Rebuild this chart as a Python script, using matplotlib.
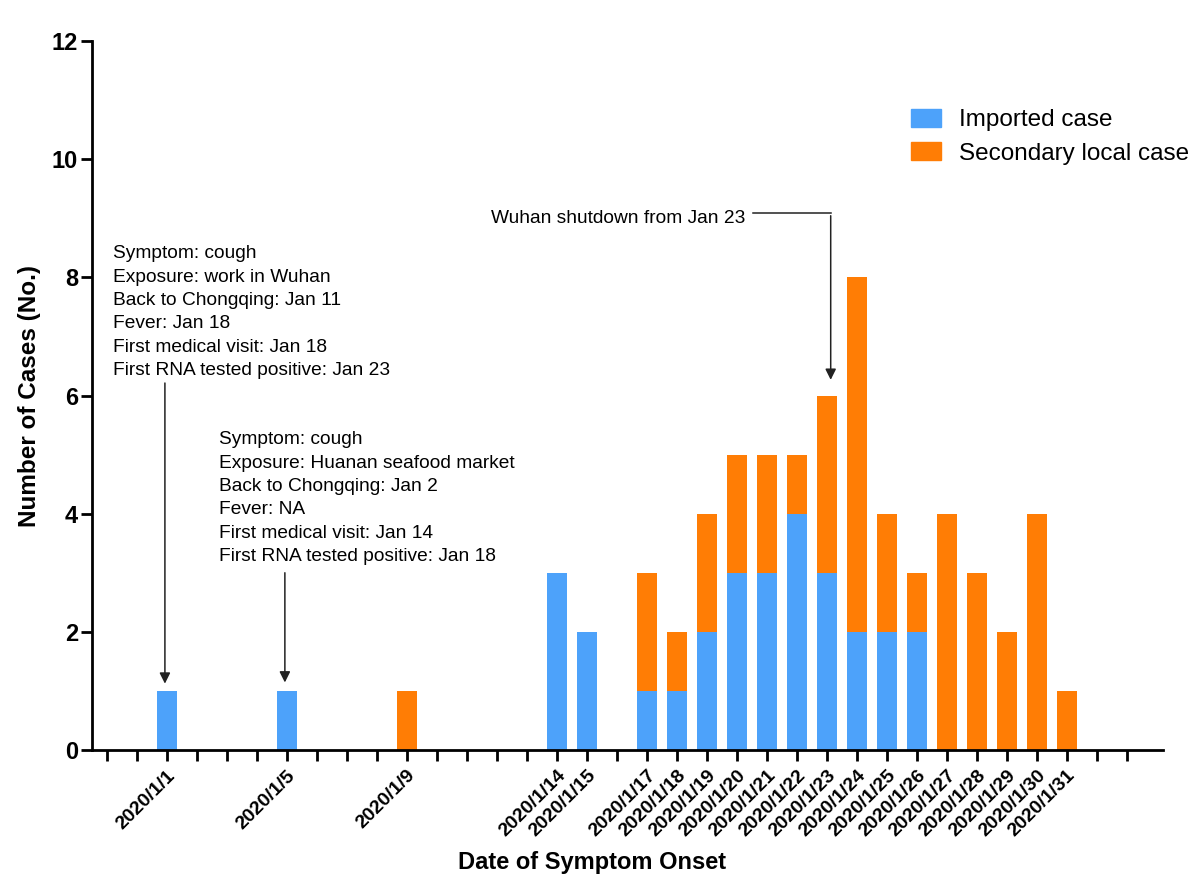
import numpy as np
import matplotlib.pyplot as plt
from matplotlib.patches import Patch

plt.rcParams['font.family'] = ['Liberation Sans', 'DejaVu Sans']

# day of January 2020 for each bar
days = [1, 5, 9, 14, 15, 17, 18, 19, 20, 21, 22, 23, 24, 25, 26, 27, 28, 29, 30, 31]
imported = [1, 1, 0, 3, 2, 1, 1, 2, 3, 3, 4, 3, 2, 2, 2, 0, 0, 0, 0, 0]
secondary = [0, 0, 1, 0, 0, 2, 1, 2, 2, 2, 1, 3, 6, 2, 1, 4, 3, 2, 4, 1]

labeled_days = days
case1 = ["Symptom: cough",
         "Exposure: work in Wuhan",
         "Back to Chongqing: Jan 11",
         "Fever: Jan 18",
         "First medical visit: Jan 18",
         "First RNA tested positive: Jan 23"]
case2 = ["Symptom: cough",
         "Exposure: Huanan seafood market",
         "Back to Chongqing: Jan 2",
         "Fever: NA",
         "First medical visit: Jan 14",
         "First RNA tested positive: Jan 18"]

blue = '#4da2fa'
orange = '#ff7d05'

fig = plt.figure(figsize=(12.03, 8.90), dpi=100)
ax = fig.add_axes([0.0765, 0.157, 0.890, 0.797])

days = np.array(days)
imported = np.array(imported)
secondary = np.array(secondary)
ax.bar(days, imported, width=0.67, color=blue)
ax.bar(days, secondary, width=0.67, bottom=imported, color=orange)

ax.set_xlim(-1.5, 34.2)
ax.set_ylim(0, 12)
ax.set_yticks(np.arange(0, 13, 2))
all_days = np.arange(-1, 34)
ax.set_xticks(all_days)
ax.set_xticklabels([f"2020/1/{d}" if d in labeled_days else "" for d in all_days],
                   rotation=45, ha='right', rotation_mode='anchor', fontweight='bold', fontsize=14)
for lab in ax.get_yticklabels():
    lab.set_fontweight('bold')
    lab.set_fontsize(17)
ax.tick_params(axis='both', length=8, width=2, direction='out')
ax.tick_params(axis='x', pad=4)
ax.tick_params(axis='y', pad=2)
for s in ['top', 'right']:
    ax.spines[s].set_visible(False)
for s in ['left', 'bottom']:
    ax.spines[s].set_linewidth(2)

ax.set_xlabel("Date of Symptom Onset", fontsize=17, fontweight='bold')
ax.xaxis.set_label_coords(0.467, -0.142)
ax.set_ylabel("Number of Cases (No.)", fontsize=17.5, fontweight='bold', labelpad=8)

# annotation blocks
step = 0.395
for i, line in enumerate(case1):
    ax.text(-0.8, 8.4 - i * step, line, fontsize=13.8, va='center', ha='left')
for i, line in enumerate(case2):
    ax.text(2.73, 5.25 - i * step, line, fontsize=13.8, va='center', ha='left')

arrow = dict(arrowstyle='-|>', color='#222222', lw=1.1, mutation_scale=16)
ax.annotate('', xy=(0.93, 1.08), xytext=(0.93, 6.26), arrowprops=arrow)
ax.annotate('', xy=(4.93, 1.1), xytext=(4.93, 3.05), arrowprops=arrow)

ax.text(20.3, 9.0, "Wuhan shutdown from Jan 23", fontsize=13.8, va='center', ha='right')
ax.plot([20.53, 23.13], [9.09, 9.09], color='#222222', lw=1.1)
ax.annotate('', xy=(23.13, 6.22), xytext=(23.13, 9.09), arrowprops=arrow)

handles = [Patch(color=blue, label='Imported case'),
           Patch(color=orange, label='Secondary local case')]
ax.legend(handles=handles, loc='upper right', bbox_to_anchor=(1.045, 0.935), frameon=False,
          fontsize=17.5, handlelength=1.2, handleheight=0.75, labelspacing=0.45, handletextpad=0.75)

fig.savefig('out.png', dpi=100)
